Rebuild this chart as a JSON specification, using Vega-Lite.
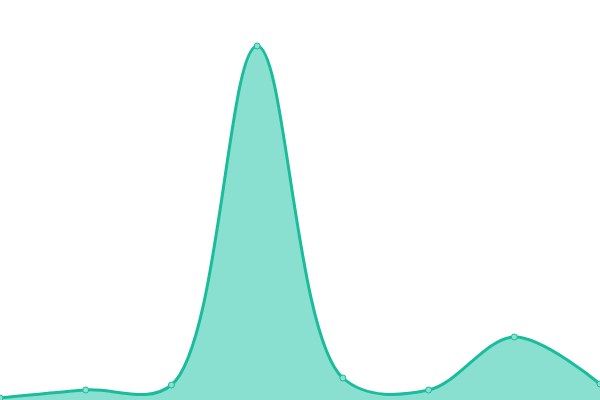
{
  "$schema": "https://vega.github.io/schema/vega-lite/v6.json",
  "width": 600,
  "height": 400,
  "autosize": {"type": "fit", "contains": "padding"},
  "padding": 0,
  "data": {
    "values": [
      {"x": 0, "y": 2},
      {"x": 1, "y": 10},
      {"x": 2, "y": 15},
      {"x": 3, "y": 354},
      {"x": 4, "y": 22},
      {"x": 5, "y": 10},
      {"x": 6, "y": 63},
      {"x": 7, "y": 16}
    ]
  },
  "encoding": {
    "x": {"field": "x", "type": "quantitative", "axis": null, "scale": {"domain": [0, 7], "nice": false}},
    "y": {"field": "y", "type": "quantitative", "axis": null, "scale": {"domain": [0, 400], "nice": false}}
  },
  "layer": [
    {
      "mark": {"type": "area", "interpolate": "catmull-rom", "color": "#8ae0d0", "clip": true}
    },
    {
      "mark": {"type": "line", "interpolate": "catmull-rom", "color": "#1abc9c", "strokeWidth": 3, "clip": true}
    },
    {
      "mark": {"type": "point", "filled": true, "fill": "#8ae0d0", "stroke": "#1abc9c", "strokeWidth": 1, "size": 36, "opacity": 1, "clip": true}
    }
  ],
  "config": {"view": {"stroke": null}}
}
